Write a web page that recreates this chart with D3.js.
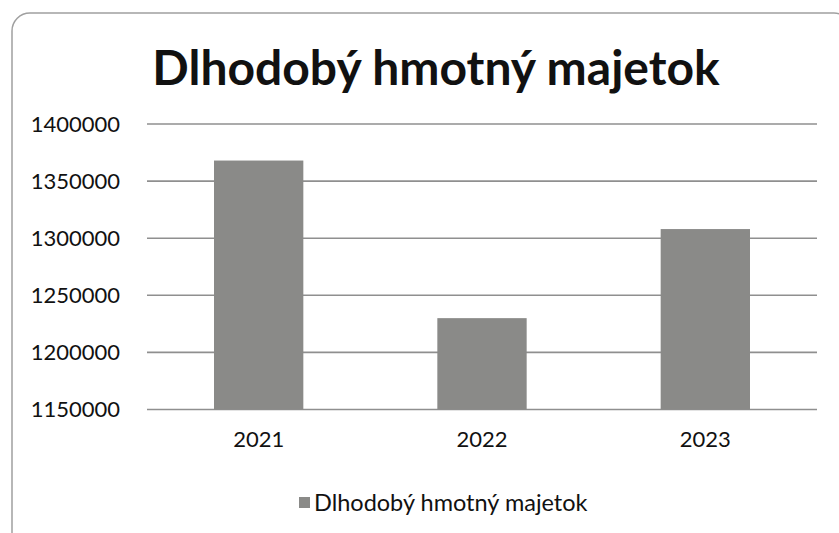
<!DOCTYPE html>
<html>
<head>
<meta charset="utf-8">
<script src="https://cdn.jsdelivr.net/npm/d3@7"></script>
<style>
  body { margin: 0; background: #fff; }
  text { font-family: Lato, "Open Sans", sans-serif; fill: #111; }
</style>
</head>
<body>
<div id="chart"></div>
<script>
// chart data
var years = ["2021", "2022", "2023"];
var values = [1368000, 1230000, 1308000];
var yTicks = [1150000, 1200000, 1250000, 1300000, 1350000, 1400000];
var seriesName = "Dlhodobý hmotný majetok";
var title = "Dlhodobý hmotný majetok";

var width = 839, height = 533;
var margin = {top: 124, right: 22, bottom: 124, left: 147};

var svg = d3.select("#chart").append("svg")
    .attr("width", width)
    .attr("height", height);

// outer frame
svg.append("rect")
    .attr("x", 12).attr("y", 13)
    .attr("width", 840).attr("height", 545)
    .attr("rx", 18)
    .attr("fill", "none")
    .attr("stroke", "#a0a0a0")
    .attr("stroke-width", 1.5);

var x = d3.scaleBand()
    .domain(years)
    .range([margin.left, width - margin.right])
    .paddingInner(0.6)
    .paddingOuter(0.3);

var y = d3.scaleLinear()
    .domain([1150000, 1400000])
    .range([height - margin.bottom + 0.5, margin.top]);

// gridlines
svg.selectAll(".grid")
    .data(yTicks)
    .enter().append("line")
    .attr("class", "grid")
    .attr("x1", margin.left).attr("x2", width - margin.right)
    .attr("y1", function(d){ return y(d); })
    .attr("y2", function(d){ return y(d); })
    .attr("stroke", "#8f8f8f")
    .attr("stroke-width", 1.6);

// y labels
svg.selectAll(".ylab")
    .data(yTicks)
    .enter().append("text")
    .attr("class", "ylab")
    .attr("x", 120)
    .attr("y", function(d){ return y(d); })
    .attr("dy", "0.36em")
    .attr("text-anchor", "end")
    .style("font-size", "22px")
    .text(function(d){ return d; });

// bars
svg.selectAll(".bar")
    .data(values)
    .enter().append("rect")
    .attr("class", "bar")
    .attr("x", function(d, i){ return x(years[i]); })
    .attr("width", x.bandwidth())
    .attr("y", function(d){ return y(d); })
    .attr("height", function(d){ return y(1150000) - y(d); })
    .attr("fill", "#8a8a88");

// x labels
svg.selectAll(".xlab")
    .data(years)
    .enter().append("text")
    .attr("class", "xlab")
    .attr("x", function(d){ return x(d) + x.bandwidth() / 2; })
    .attr("y", 447)
    .attr("text-anchor", "middle")
    .style("font-size", "22px")
    .text(function(d){ return d; });

// title
svg.append("text")
    .attr("x", 436)
    .attr("y", 85)
    .attr("text-anchor", "middle")
    .style("font-size", "48px")
    .style("font-weight", "bold")
    .text(title);

// legend
svg.append("rect")
    .attr("x", 299).attr("y", 497)
    .attr("width", 11).attr("height", 11)
    .attr("fill", "#8a8a88");
svg.append("text")
    .attr("x", 314)
    .attr("y", 511)
    .style("font-size", "23.5px")
    .text(seriesName);
</script>
</body>
</html>
